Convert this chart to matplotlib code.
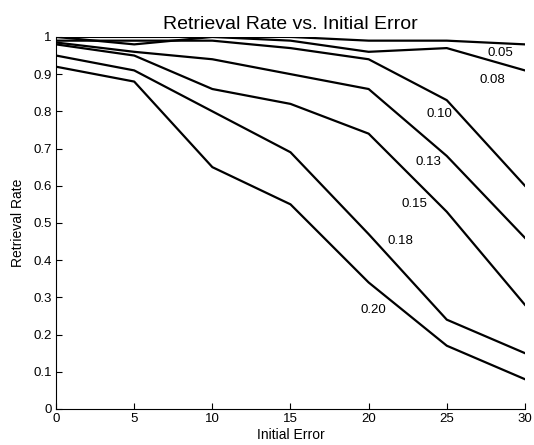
import matplotlib
matplotlib.use("Agg")
import matplotlib.pyplot as plt

plt.rcParams['font.family'] = ['Liberation Sans', 'DejaVu Sans']

# initial error values (x axis)
initial_error = [0, 5, 10, 15, 20, 25, 30]

# retrieval rate for each noise level
rate_005 = [1.00, 1.00, 1.00, 1.00, 0.99, 0.99, 0.98]
rate_008 = [1.00, 0.98, 1.00, 0.99, 0.96, 0.97, 0.91]
rate_010 = [0.99, 0.99, 0.99, 0.97, 0.94, 0.83, 0.60]
rate_013 = [0.985, 0.96, 0.94, 0.90, 0.86, 0.68, 0.46]
rate_015 = [0.98, 0.95, 0.86, 0.82, 0.74, 0.53, 0.28]
rate_018 = [0.95, 0.91, 0.80, 0.69, 0.47, 0.24, 0.15]
rate_020 = [0.92, 0.88, 0.65, 0.55, 0.34, 0.17, 0.08]

series = [rate_005, rate_008, rate_010, rate_013, rate_015, rate_018, rate_020]
labels = ["0.05", "0.08", "0.10", "0.13", "0.15", "0.18", "0.20"]
# where the labels sit (data coords)
label_x = [28.4, 27.9, 24.5, 23.8, 22.9, 22.05, 20.3]
label_y = [0.957, 0.883, 0.792, 0.663, 0.551, 0.452, 0.266]

fig = plt.figure(figsize=(5.34, 4.45), dpi=100)
ax = fig.add_axes([0.105, 0.081, 0.878, 0.836])

for s in series:
    ax.plot(initial_error, s, color='black', linewidth=1.6)

for lab, lx, ly in zip(labels, label_x, label_y):
    ax.text(lx, ly, lab, fontsize=9.5, ha='center', va='center')

ax.set_xlim(0, 30)
ax.set_ylim(0, 1)
ax.set_xticks([0, 5, 10, 15, 20, 25, 30])
ax.set_yticks([0, 0.1, 0.2, 0.3, 0.4, 0.5, 0.6, 0.7, 0.8, 0.9, 1])
ax.set_yticklabels(["0", "0.1", "0.2", "0.3", "0.4", "0.5", "0.6", "0.7", "0.8", "0.9", "1"])
ax.tick_params(direction='in', labelsize=9.5, length=4)
ax.tick_params(axis='x', pad=3)
ax.tick_params(axis='y', pad=3)

ax.spines['top'].set_visible(False)
ax.spines['right'].set_visible(False)

ax.set_xlabel("Initial Error", fontsize=10, labelpad=2)
ax.set_ylabel("Retrieval Rate", fontsize=10, labelpad=6)
ax.set_title("Retrieval Rate vs. Initial Error", fontsize=14, pad=6)

fig.savefig("out.png", dpi=100)
